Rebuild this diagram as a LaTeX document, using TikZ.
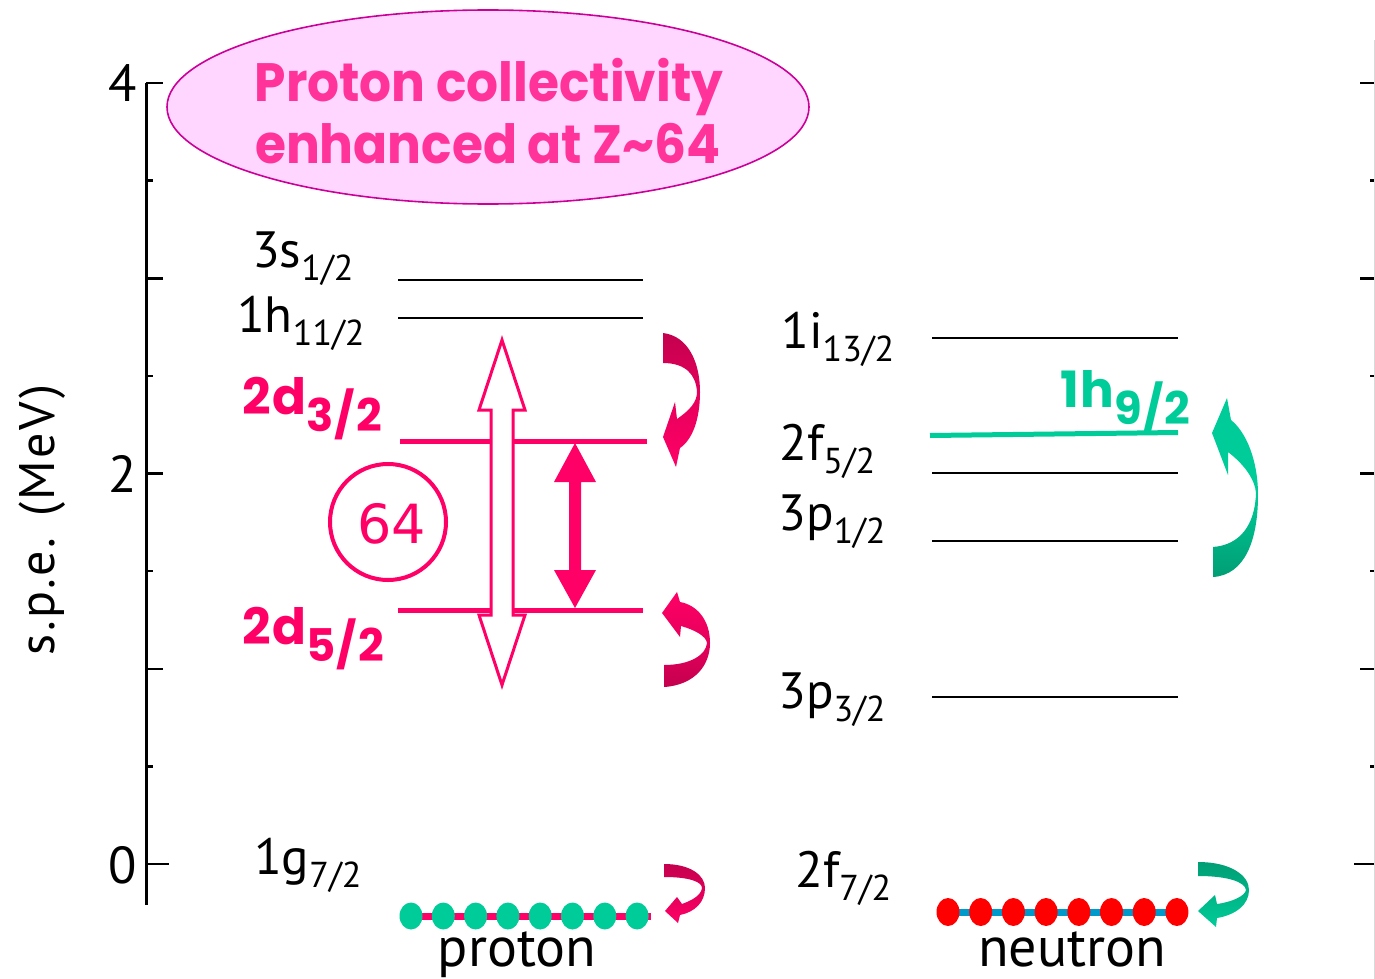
\documentclass[tikz,border=0pt]{standalone}
\usepackage{fontspec}
\setmainfont{PT Sans}
\newfontfamily\comic{Poppins}[FakeStretch=0.93]
\newfontfamily\comicw{Poppins}[LetterSpace=3]
\newfontfamily\ylabfont{PT Sans}[LetterSpace=5]
\newfontfamily\dvs{DejaVu Sans}
\usetikzlibrary{shapes.geometric}
\definecolor{pinkL}{HTML}{FF0066}
\definecolor{pinkD}{HTML}{C4004E}
\definecolor{titleP}{HTML}{FF3399}
\definecolor{ellF}{HTML}{FFD6FF}
\definecolor{ellD}{HTML}{CC0099}
\definecolor{grnL}{HTML}{00CC99}
\definecolor{grnD}{HTML}{009E74}
\definecolor{redD}{HTML}{FF0000}
\definecolor{bluL}{HTML}{0099CC}
\newcommand\orb[2]{#1\raisebox{-13pt}{\fontsize{36}{36}\selectfont #2}}
\newcommand\orbc[2]{#1\raisebox{-17pt}{\fontsize{45}{45}\selectfont #2}}
\begin{document}
\begin{tikzpicture}[x=1pt,y=-1pt,
  axisline/.style={line width=3pt,black},
  blk/.style={line width=2.5pt,black},
  pnk/.style={line width=5pt,pinkL},
  grn/.style={line width=5pt,grnL},
  lab/.style={inner sep=0pt,anchor=base west,font=\fontsize{51}{51}\selectfont},
  plab/.style={inner sep=0pt,anchor=base west,font=\comicw\bfseries\fontsize{50}{50}\selectfont,text=pinkL},
  ticklab/.style={inner sep=0pt,anchor=east,font=\fontsize{52}{52}\selectfont},
  dotg/.style={ellipse,fill=grnL,inner sep=0pt,minimum width=23pt,minimum height=27pt},
  dotr/.style={ellipse,fill=redD,inner sep=0pt,minimum width=23pt,minimum height=28pt}]
\useasboundingbox (0,0) rectangle (1375,979);
\fill[white] (0,0) rectangle (1375,979);

% ---- axes
\coordinate (axT) at (146,83);
\coordinate (axB) at (146,905);
\draw[axisline] (axT) -- (axB);
\foreach \k/\len in {0/17,1/7,2/17,3/7,4/17,5/7,6/17,7/7,8/23}{
  \draw[line width=2.5pt] (146,{83+97.625*\k}) -- ++(\len,0);
  \draw[line width=2.5pt] (1375,{83+97.625*\k}) -- ++(-\len+2,0);
}
\coordinate (raT) at (1374,40);
\coordinate (raB) at (1374,979);
\draw[line width=1pt,black!15] (raT) -- (raB);
\node[ticklab] (t4) at (137,83) {4};
\node[ticklab] (t2) at (137,474) {2};
\node[ticklab] (t0) at (137,865) {0};
\node[rotate=90,inner sep=0pt,font=\ylabfont\fontsize{50}{50}\selectfont] (ylab) at (42,520) {s.p.e. (MeV)};

% ---- title ellipse
\node[ellipse,draw=ellD,line width=1.6pt,fill=ellF,minimum width=642pt,minimum height=194pt] (ell) at (488,107) {};
\node[inner sep=0pt,anchor=base,font=\comic\bfseries\fontsize{54}{54}\selectfont,text=titleP] (tl1) at (489,102) {Proton collectivity};
\node[inner sep=0pt,anchor=base,font=\comic\bfseries\fontsize{54}{54}\selectfont,text=titleP] (tl2) at (488,163) {enhanced at Z\textasciitilde64};

% ---- proton levels
\coordinate (p3sL) at (398,280); \coordinate (p3sR) at (643,280);
\coordinate (p1hL) at (398,318); \coordinate (p1hR) at (643,318);
\coordinate (p2d3L) at (400,441); \coordinate (p2d3R) at (647,441);
\coordinate (p2d5L) at (398,610); \coordinate (p2d5R) at (643,610);
\draw[blk] (p3sL) -- (p3sR);
\draw[blk] (p1hL) -- (p1hR);
\draw[pnk] (p2d3L) -- (p2d3R);
\draw[pnk] (p2d5L) -- (p2d5R);

\node[lab] (l3s) at (252,267) {\orb{3s}{1/2}};
\node[lab] (l1h) at (237,332) {\orb{1h}{11/2}};
\node[lab] (l1g) at (254,874) {\orb{1g}{7/2}};
\node[plab] (l2d3) at (242,414) {\orbc{2d}{3/2}};
\node[plab] (l2d5) at (242,644) {\orbc{2d}{5/2}};

% circle 64
\node[circle,draw=pinkL,line width=4pt,minimum size=116pt,inner sep=0pt] (c64) at (388,522) {};
\node[inner sep=0pt,font=\dvs\fontsize{54}{54}\selectfont,text=pinkL] (n64) at (392,524) {64};

% hollow double arrow
\draw[line width=3pt,draw=pinkL,fill=white,line join=miter]
  (502,340) -- (525,410) -- (513,410) -- (513,615) -- (525,615) -- (502,685)
  -- (479,615) -- (491,615) -- (491,410) -- (479,410) -- cycle;
% solid double arrow
\fill[pinkL] (575,443) -- (596,482) -- (581,482) -- (581,570) -- (596,570) -- (575,608)
  -- (554,570) -- (569,570) -- (569,482) -- (554,482) -- cycle;

% curved arrows proton
\shade[top color=pinkD,bottom color=pinkL,middle color=pinkD!40!pinkL]
  (663,333) .. controls (688,336) and (700,362) .. (700,392)
  .. controls (700,420) and (692,440) .. (680,448) -- (676,467) -- (663,437)
  -- (675,402) -- (677,419) .. controls (690,410) and (697,402) .. (697,392)
  .. controls (696,375) and (686,363) .. (663,363) -- cycle;
\shade[top color=pinkL,bottom color=pinkD,middle color=pinkD!40!pinkL]
  (664,687) .. controls (695,685) and (710,665) .. (710,643)
  .. controls (710,620) and (697,605) .. (680,602) -- (677,592) -- (662,613)
  -- (680,637) -- (681,626) .. controls (695,630) and (706,636) .. (707,643)
  .. controls (706,655) and (690,665) .. (664,665) -- cycle;
\shade[top color=pinkD,bottom color=pinkL]
  (664,864) .. controls (690,864) and (705,875) .. (705,888)
  .. controls (705,902) and (695,912) .. (680,915) -- (678,923) -- (665,911)
  -- (677,897) -- (682,904) .. controls (693,900) and (701,895) .. (702,888)
  .. controls (702,882) and (690,877) .. (664,877) -- cycle;

% proton bottom chain
\coordinate (pcL) at (410,916); \coordinate (pcR) at (651,916);
\draw[line width=7pt,pinkL] (pcL) -- (pcR);
\foreach \i in {0,...,7}{ \node[dotg] (pd\i) at ({411+32.3*\i},916) {}; }
\node[inner sep=0pt,anchor=base,font=\fontsize{56}{56}\selectfont] (plab) at (517,966) {proton};

% ---- neutron levels
\coordinate (n1iL) at (932,338); \coordinate (n1iR) at (1178,338);
\coordinate (n1hL) at (930,435.5); \coordinate (n1hR) at (1178,432.5);
\coordinate (n2fL) at (932,473); \coordinate (n2fR) at (1178,473);
\coordinate (n3p1L) at (932,541); \coordinate (n3p1R) at (1178,541);
\coordinate (n3p3L) at (932,697); \coordinate (n3p3R) at (1178,697);
\draw[blk] (n1iL) -- (n1iR);
\draw[grn] (n1hL) -- (n1hR);
\draw[blk] (n2fL) -- (n2fR);
\draw[blk] (n3p1L) -- (n3p1R);
\draw[blk] (n3p3L) -- (n3p3R);

\node[lab] (l1i) at (781,348) {\orb{1i}{13/2}};
\node[lab] (l2f5) at (779,460) {\orb{2f}{5/2}};
\node[lab] (l3p1) at (778,530) {\orb{3p}{1/2}};
\node[lab] (l3p3) at (778,708) {\orb{3p}{3/2}};
\node[lab] (l2f7) at (795,887) {\orb{2f}{7/2}};
\node[plab,text=grnL] (l1h9) at (1060,407) {\orbc{1h}{9/2}};

% curved arrows neutron
\shade[top color=grnL,bottom color=grnD,middle color=grnL]
  (1227,398) -- (1212,433) -- (1228,475) -- (1228,452)
  .. controls (1245,465) and (1255,480) .. (1256,493)
  .. controls (1255,525) and (1240,545) .. (1213,547) -- (1213,577)
  .. controls (1245,575) and (1258,540) .. (1258,495)
  .. controls (1258,460) and (1246,432) .. (1231,420) -- cycle;
\shade[top color=grnD,bottom color=grnL]
  (1198,862) .. controls (1230,862) and (1249,875) .. (1249,890)
  .. controls (1249,905) and (1235,915) .. (1217,918) -- (1216,927) -- (1198,911)
  -- (1215,895) -- (1217,904) .. controls (1232,902) and (1245,896) .. (1246,890)
  .. controls (1245,882) and (1228,876) .. (1198,876) -- cycle;

% neutron bottom chain
\coordinate (ncL) at (948,912); \coordinate (ncR) at (1177,912);
\draw[line width=7pt,bluL] (ncL) -- (ncR);
\foreach \i in {0,...,7}{ \node[dotr] (nd\i) at ({948+32.7*\i},912) {}; }
\node[inner sep=0pt,anchor=base,font=\fontsize{56}{56}\selectfont] (nlab) at (1072,966) {neutron};
\end{tikzpicture}
\end{document}
